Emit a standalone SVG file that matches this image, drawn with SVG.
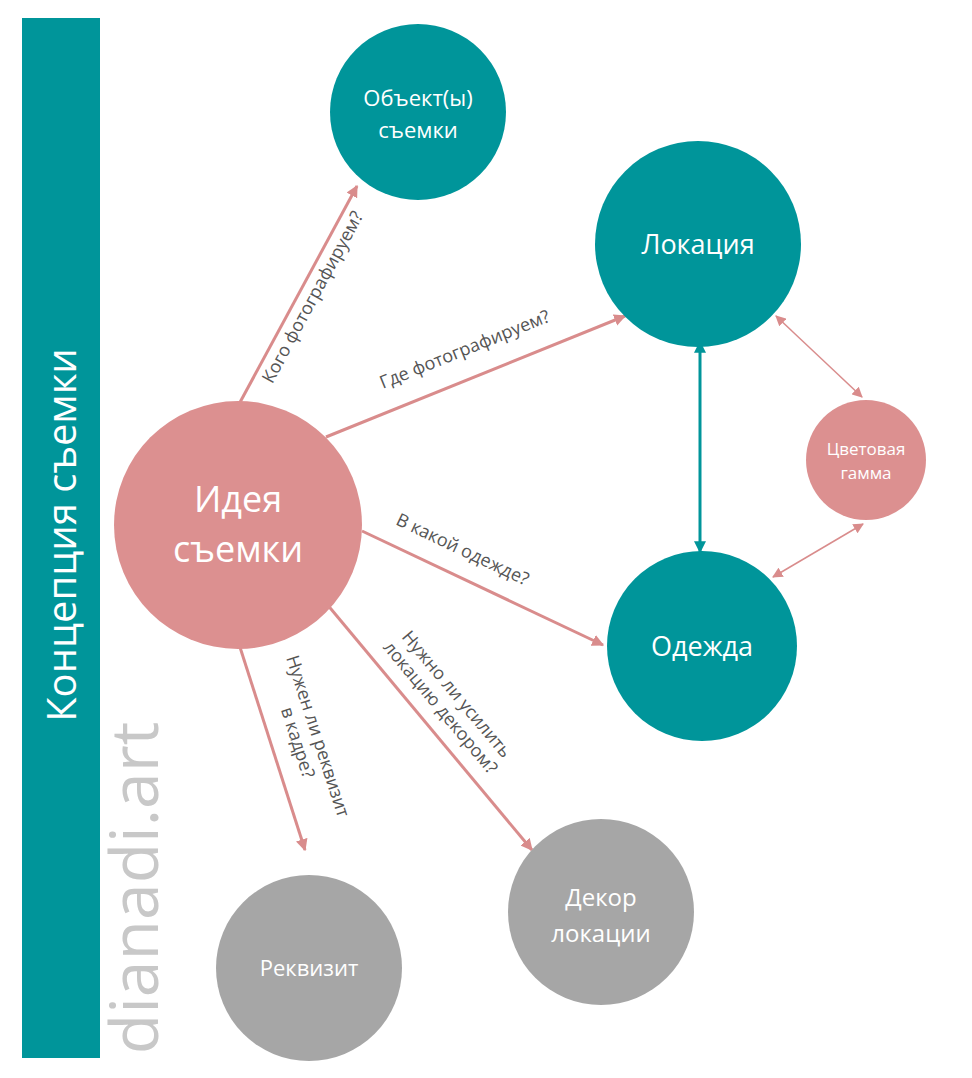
<svg xmlns="http://www.w3.org/2000/svg" width="972" height="1078" viewBox="0 0 972 1078">
<style>
text{font-family:"Open Sans","Liberation Sans",sans-serif}
.w{fill:#fff;text-anchor:middle}
.l{fill:#555;font-size:18px;text-anchor:middle}
.pa{stroke:#D98C8C;stroke-width:3;fill:none}
.pt{stroke:#D98C8C;stroke-width:1.5;fill:none}
</style>
<defs>
<marker id="pk" viewBox="0 0 10 10" refX="9" refY="5" markerWidth="4" markerHeight="4" orient="auto-start-reverse"><path d="M0,0L10,5L0,10z" fill="#D98C8C"/></marker>
<marker id="pk2" viewBox="0 0 10 10" refX="9" refY="5" markerWidth="7" markerHeight="7" orient="auto-start-reverse"><path d="M0,0L10,5L0,10z" fill="#D98C8C"/></marker>
<marker id="tl" viewBox="0 0 10 10" refX="9" refY="5" markerWidth="4" markerHeight="4" orient="auto-start-reverse"><path d="M0,0L10,5L0,10z" fill="#00959A"/></marker>
</defs>
<rect x="22" y="18" width="78" height="1040" fill="#00959A"/>
<text class="w" font-size="40" transform="translate(76,535) rotate(-90)">Концепция съемки</text>
<text fill="#c8c8c8" font-size="66" text-anchor="middle" transform="translate(158,888) rotate(-90)">dianadi.art</text>
<g id="connectors">
<line class="pa" x1="238" y1="406" x2="357" y2="186" marker-end="url(#pk)"/>
<line class="pa" x1="326" y1="437" x2="625" y2="316" marker-end="url(#pk)"/>
<line class="pa" x1="362" y1="531" x2="603" y2="645" marker-end="url(#pk)"/>
<line class="pa" x1="238" y1="641" x2="305" y2="850" marker-end="url(#pk)"/>
<line class="pa" x1="326" y1="603" x2="532" y2="850" marker-end="url(#pk)"/>
<line stroke="#00959A" stroke-width="3" x1="700" y1="342" x2="700" y2="552" marker-start="url(#tl)" marker-end="url(#tl)"/>
<line class="pt" x1="776" y1="316" x2="862" y2="397" marker-start="url(#pk2)" marker-end="url(#pk2)"/>
<line class="pt" x1="773" y1="577" x2="863" y2="524" marker-start="url(#pk2)" marker-end="url(#pk2)"/>
<text class="l" transform="translate(318,300) rotate(-61.6)">Кого фотографируем?</text>
<text class="l" transform="translate(467,355) rotate(-22)">Где фотографируем?</text>
<text class="l" transform="translate(460,555) rotate(25.3)">В какой одежде?</text>
<text class="l" transform="translate(312,738) rotate(72)"><tspan x="0" y="0">Нужен ли реквизит</tspan><tspan x="0" y="21">в кадре?</tspan></text>
<text class="l" transform="translate(452,698) rotate(50)"><tspan x="0" y="0">Нужно ли усилить</tspan><tspan x="0" y="21">локацию декором?</tspan></text>
</g>
<g id="n1"><circle cx="418" cy="112" r="88" fill="#00959A"/><text class="w" font-size="22" x="418" y="106">Объект(ы)</text><text class="w" font-size="22" x="418" y="138">съемки</text></g>
<g id="n2"><circle cx="698" cy="244" r="103" fill="#00959A"/><text class="w" font-size="27" x="698" y="254">Локация</text></g>
<g id="n3"><circle cx="866" cy="460" r="60" fill="#DC9090"/><text class="w" font-size="17" x="866" y="455">Цветовая</text><text class="w" font-size="17" x="866" y="479">гамма</text></g>
<g id="n4"><circle cx="702" cy="646" r="95" fill="#00959A"/><text class="w" font-size="27" x="702" y="656">Одежда</text></g>
<g id="n5"><circle cx="238" cy="525" r="124" fill="#DC9090"/><text class="w" font-size="36" x="238" y="512">Идея</text><text class="w" font-size="36" x="238" y="562">съемки</text></g>
<g id="n6"><circle cx="309" cy="968" r="93" fill="#A6A6A6"/><text class="w" font-size="22" x="309" y="976">Реквизит</text></g>
<g id="n7"><circle cx="601" cy="912" r="93" fill="#A6A6A6"/><text class="w" font-size="24" x="601" y="906">Декор</text><text class="w" font-size="24" x="601" y="942">локации</text></g>
</svg>
